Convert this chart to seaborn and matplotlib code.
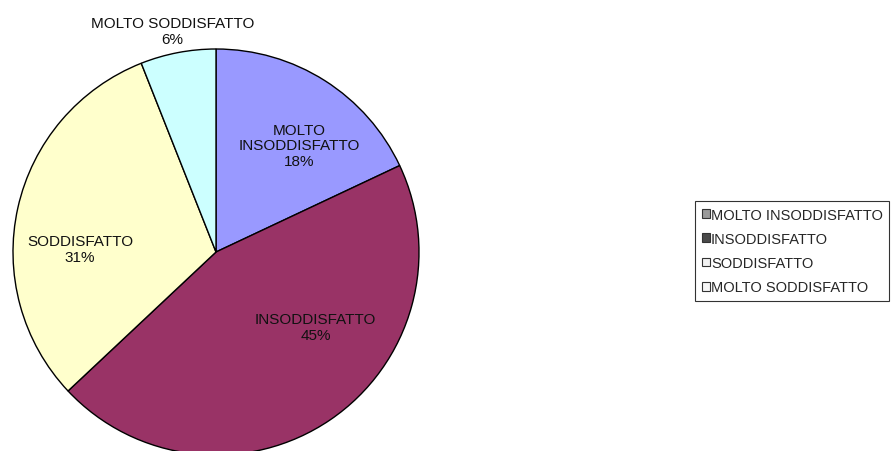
import matplotlib
matplotlib.use("Agg")
import matplotlib.pyplot as plt
import seaborn as sns
from matplotlib.patches import Patch

categories = ["MOLTO INSODDISFATTO", "INSODDISFATTO", "SODDISFATTO", "MOLTO SODDISFATTO"]
wedge_labels = ["MOLTO\nINSODDISFATTO", "INSODDISFATTO", "SODDISFATTO", "MOLTO SODDISFATTO"]
percentages = [18, 45, 31, 6]
colors = ["#9999FF", "#993366", "#FFFFCC", "#CCFFFF"]
legend_swatch = ["#9a9a9a", "#4a4a4a", "#f2f2f2", "#f7f7f7"]

sns.set_style("white")
plt.rcParams["font.family"] = ["Liberation Sans", "DejaVu Sans"]

fig = plt.figure(figsize=(8.91, 4.52), dpi=100)
ax = fig.add_axes([13 / 891, -4 / 452, 406 / 891, 406 / 452])

wedges, _ = ax.pie(percentages, colors=colors, startangle=90, counterclock=False,
                   wedgeprops=dict(edgecolor="black", linewidth=1.0))
ax.set_xlim(-1, 1)
ax.set_ylim(-1, 1)
ax.set_aspect("equal")
ax.axis("off")

# label positions (axes data coords), tuned to the reference layout
label_pos = [(0.41, 0.525), (0.49, -0.37), (-0.67, 0.015), (-0.215, 1.09)]
for (x, y), lab, p in zip(label_pos, wedge_labels, percentages):
    ax.text(x, y, f"{lab}\n{p}%", ha="center", va="center", fontsize=11,
            linespacing=1.15, color="#111111", clip_on=False)

handles = [Patch(facecolor=c, edgecolor="#333333", linewidth=0.8) for c in legend_swatch]
leg = fig.legend(handles, categories, loc="center left", bbox_to_anchor=(695 / 891, 1 - 252 / 452),
                 frameon=True, fancybox=False, edgecolor="black", fontsize=10.5,
                 handlelength=0.55, handleheight=0.55, handletextpad=0.1,
                 labelspacing=0.7, borderpad=0.45, borderaxespad=0)
leg.get_frame().set_linewidth(0.8)

fig.savefig("out.png", dpi=100, facecolor="white")
